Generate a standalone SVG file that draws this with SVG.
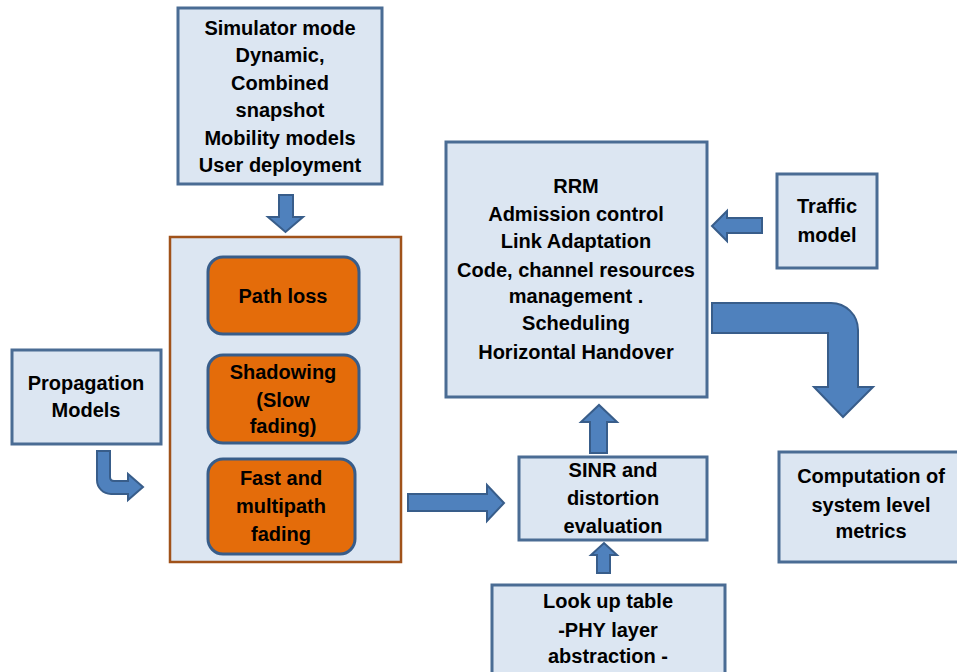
<svg xmlns="http://www.w3.org/2000/svg" width="957" height="672" viewBox="0 0 957 672">
<style>
.box{fill:#DCE6F2;stroke:#4A6C94;stroke-width:3}
.cont{fill:#DCE6F2;stroke:#A0521A;stroke-width:2.5}
.orn{fill:#E46C0A;stroke:#385D8A;stroke-width:3}
.arr{fill:#4F81BD;stroke:#385D8A;stroke-width:2;stroke-linejoin:miter}
text{font-family:"Liberation Sans",Arial,sans-serif;font-weight:bold;font-size:20px;fill:#000;text-anchor:middle}
</style>
<rect width="957" height="672" fill="#fff"/>
<g id="simulator">
<rect class="box" x="178" y="8" width="204" height="176"/>
<text x="280" y="35">Simulator mode</text>
<text x="280" y="62">Dynamic,</text>
<text x="280" y="90">Combined</text>
<text x="280" y="117">snapshot</text>
<text x="280" y="145">Mobility models</text>
<text x="280" y="172">User deployment</text>
</g>
<g id="container">
<rect class="cont" x="170" y="237" width="231" height="325"/>
</g>
<g id="pathloss">
<rect class="orn" x="208" y="257" width="151" height="77" rx="15"/>
<text x="283" y="303">Path loss</text>
</g>
<g id="shadowing">
<rect class="orn" x="208" y="355" width="151" height="88" rx="15"/>
<text x="283" y="379">Shadowing</text>
<text x="283" y="407">(Slow</text>
<text x="283" y="433">fading)</text>
</g>
<g id="fastfading">
<rect class="orn" x="208" y="459" width="147" height="95" rx="15"/>
<text x="281" y="485">Fast and</text>
<text x="281" y="513">multipath</text>
<text x="281" y="541">fading</text>
</g>
<g id="propagation">
<rect class="box" x="12" y="350" width="149" height="94"/>
<text x="86" y="390">Propagation</text>
<text x="86" y="417">Models</text>
</g>
<g id="rrm">
<rect class="box" x="446" y="142" width="261" height="255"/>
<text x="576" y="193">RRM</text>
<text x="576" y="221">Admission control</text>
<text x="576" y="248">Link Adaptation</text>
<text x="576" y="277">Code, channel resources</text>
<text x="576" y="303">management .</text>
<text x="576" y="330">Scheduling</text>
<text x="576" y="359">Horizontal Handover</text>
</g>
<g id="traffic">
<rect class="box" x="777" y="174" width="100" height="94"/>
<text x="827" y="213">Traffic</text>
<text x="827" y="242">model</text>
</g>
<g id="sinr">
<rect class="box" x="519" y="457" width="188" height="83"/>
<text x="613" y="477">SINR and</text>
<text x="613" y="505">distortion</text>
<text x="613" y="533">evaluation</text>
</g>
<g id="lookup">
<rect class="box" x="492" y="585" width="233" height="100"/>
<text x="608" y="608">Look up table</text>
<text x="608" y="637">-PHY layer</text>
<text x="608" y="663">abstraction -</text>
</g>
<g id="computation">
<rect class="box" x="779" y="452" width="185" height="110"/>
<text x="871" y="483">Computation of</text>
<text x="871" y="512">system level</text>
<text x="871" y="538">metrics</text>
</g>
<g id="connectors">
<path class="arr" d="M279,195 L293,195 L293,217 L303,217 L285.5,232 L268,217 L279,217 Z"/>
<path class="arr" d="M97,451 L110,451 L110,477 Q110,481 114,481 L128,481 L128,474 L143,487 L128,500 L128,494 L111,494 A14,14 0 0 1 97,480 Z"/>
<path class="arr" d="M408,494 L487,494 L487,485 L504,503 L487,521 L487,511 L408,511 Z"/>
<path class="arr" d="M590,453 L607,453 L607,422 L617,422 L599,405 L581,422 L590,422 Z"/>
<path class="arr" d="M597,573 L610,573 L610,555 L617,555 L604,543 L591,555 L597,555 Z"/>
<path class="arr" d="M762,218 L727,218 L727,211 L712,226 L727,241 L727,233 L762,233 Z"/>
<path class="arr" d="M712,303 L831,303 A27,27 0 0 1 858,330 L858,387 L873,387 L843,417 L814,387 L828,387 L828,333 L712,333 Z"/>
</g>
</svg>
